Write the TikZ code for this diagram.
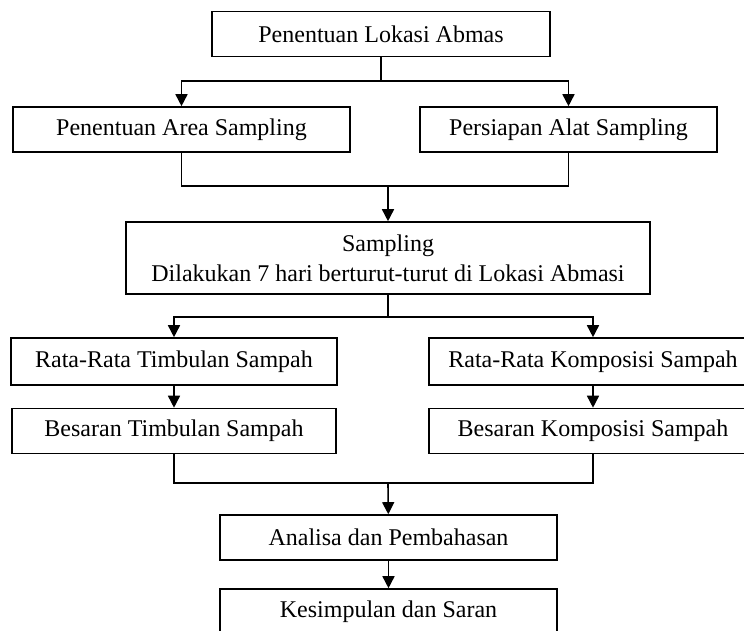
\documentclass[tikz,border=0pt]{standalone}
\usepackage{fontspec}
\setmainfont{Liberation Serif}
\usepackage{tikz}
\usetikzlibrary{arrows.meta}

\begin{document}
\begin{tikzpicture}[
  x=0.5pt, y=-0.5pt,
  font=\fontsize{12}{15}\selectfont,
  box/.style={
    draw=black,
    line width=0.8pt,
    align=center,
    minimum height=22.5pt,
    inner sep=2pt
  },
  arrow/.style={-{Triangle[length=6pt,width=6pt]}, line width=0.8pt},
  link/.style={line width=0.8pt}
]
\useasboundingbox (0,0) rectangle (744,631);

\node[box, minimum width=169pt] (L) at (381,34) {Penentuan Lokasi Abmas};

\node[box, minimum width=168.5pt] (A) at (181.5,129.5) {Penentuan Area Sampling};
\node[box, minimum width=148.5pt] (P) at (568.5,129.5) {Persiapan Alat Sampling};

\node[box, minimum width=262pt, minimum height=36pt] (S) at (388,258)
{Sampling\\
Dilakukan 7 hari berturut-turut di Lokasi Abmasi};

\node[box, minimum width=163pt, minimum height=23.5pt] (RT) at (174,361.5) {Rata-Rata Timbulan Sampah};
\node[box, minimum width=164pt, minimum height=23.5pt] (RK) at (593,361.5) {Rata-Rata Komposisi Sampah};

\node[box, minimum width=162pt] (BT) at (174,431) {Besaran Timbulan Sampah};
\node[box, minimum width=164pt] (BK) at (593,431) {Besaran Komposisi Sampah};

\node[box, minimum width=168.5pt] (AP) at (388.5,537.5) {Analisa dan Pembahasan};
\node[box, minimum width=168.5pt, minimum height=23pt] (KS) at (388.5,612) {Kesimpulan dan Saran};

% junctions
\coordinate (j1) at (381,81);
\coordinate (j2) at (388,186);
\coordinate (j3) at (388,317);
\coordinate (j4) at (388,483);

\draw[link] (L) -- (j1);
\draw[arrow] (j1) -| (A);
\draw[arrow] (j1) -| (P);

\draw[link] (A) |- (j2);
\draw[link] (P) |- (j2);
\draw[arrow] (j2) -- (S);

\draw[link] (S) -- (j3);
\draw[arrow] (j3) -| (RT);
\draw[arrow] (j3) -| (RK);

\draw[arrow] (RT) -- (BT);
\draw[arrow] (RK) -- (BK);

\draw[link] (BT) |- (j4);
\draw[link] (BK) |- (j4);
\draw[arrow] (j4) -- (AP);
\draw[arrow] (AP) -- (KS);
\end{tikzpicture}
\end{document}
